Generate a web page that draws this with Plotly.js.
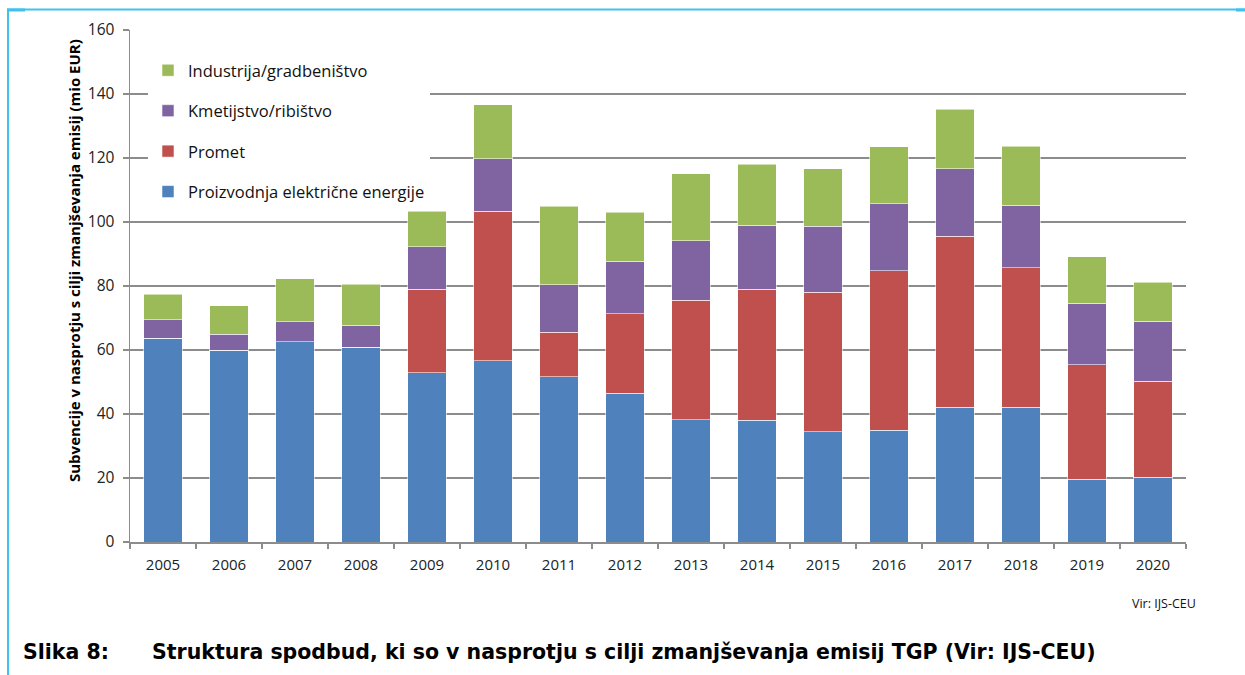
<!DOCTYPE html>
<html>
<head>
<meta charset="utf-8">
<script src="https://cdn.plot.ly/plotly-3.0.1.min.js"></script>
<style>
html,body{margin:0;padding:0;background:#fff;}
#chart{width:1245px;height:675px;}
</style>
</head>
<body>
<div id="chart"></div>
<script>
const years = ["2005","2006","2007","2008","2009","2010","2011","2012","2013","2014","2015","2016","2017","2018","2019","2020"];
const elektrika = [63.6,59.9,62.6,60.8,52.9,56.6,51.7,46.5,38.2,38.0,34.4,34.9,42.1,42.1,19.6,20.2];
const promet    = [0,0,0,0,26.1,46.7,13.8,24.9,37.3,41.0,43.6,49.9,53.5,43.6,35.8,30.0];
const kmetijstvo= [5.9,5.0,6.2,7.0,13.2,16.5,14.9,16.4,18.7,20.0,20.6,20.9,21.1,19.6,19.2,18.8];
const industrija= [7.9,8.9,13.4,12.7,11.2,16.9,24.5,15.3,20.9,19.1,18.1,17.8,18.5,18.4,14.6,12.2];

const names = ["Proizvodnja električne energije","Promet","Kmetijstvo/ribištvo","Industrija/gradbeništvo"];
const colors = ["#4f81bd","#c0504d","#8064a2","#9bbb59"];
const series = [elektrika, promet, kmetijstvo, industrija];

const traces = series.map((vals,i)=>({
  type:"bar",
  x: years,
  y: vals,
  name: names[i],
  legendgroup: "g"+i,
  legendrank: 4-i,
  marker:{color: colors[i], line:{color:"rgba(255,255,255,0.55)", width:1}},
  hoverinfo:"x+y+name"
}));

const W=1245, H=675, L=130, R=59, T=30, B=133;
const pw = W-L-R, ph = H-T-B;
const px = x => (x-L)/pw;
const py = y => (H-B-y)/ph;

const frame = "#3ec1ee";
const layout = {
  width: W, height: H,
  margin:{l:L, r:R, t:T, b:B, pad:0},
  paper_bgcolor:"#fff", plot_bgcolor:"#fff",
  barmode:"stack",
  bargap:0.42,
  showlegend:true,
  font:{family:"Open Sans, sans-serif", size:15, color:"#222"},
  legend:{
    x: px(148), y: py(53), xanchor:"left", yanchor:"top",
    traceorder:"grouped", tracegroupgap:16,
    bgcolor:"#fff", borderwidth:0,
    font:{family:"Open Sans, sans-serif", size:16.5, color:"#111"}
  },
  xaxis:{
    type:"category",
    showgrid:false,
    showline:true, linecolor:"#8c8c8c", linewidth:1.5,
    ticks:"outside", ticklen:5, tickcolor:"#8c8c8c", tickwidth:1.2,
    tickson:"boundaries",
    ticklabelstandoff:8,
    tickfont:{family:"Open Sans, sans-serif", size:15, color:"#222"},
    zeroline:false
  },
  yaxis:{
    range:[0,160],
    tickvals:[0,20,40,60,80,100,120,140,160],
    showgrid:true, gridcolor:"#8c8c8c", gridwidth:1.5,
    showline:true, linecolor:"#8c8c8c", linewidth:1.5,
    ticks:"outside", ticklen:6, tickcolor:"#8c8c8c", tickwidth:1.2,
    ticklabelstandoff:5,
    tickfont:{family:"Open Sans, sans-serif", size:15.5, color:"#222"},
    zeroline:false
  },
  annotations:[
    {xref:"paper", yref:"paper", x:px(74), y:py(261), xanchor:"center", yanchor:"middle",
     textangle:-90, showarrow:false,
     text:"<b>Subvencije v nasprotju s cilji zmanjševanja emisij (mio EUR)</b>",
     font:{family:"Open Sans, sans-serif", size:15, color:"#000"}},
    {xref:"paper", yref:"paper", x:px(1198), y:py(603), xanchor:"right", yanchor:"middle",
     showarrow:false, text:"Vir: IJS-CEU",
     font:{family:"Open Sans, sans-serif", size:12.5, color:"#111"}},
    {xref:"paper", yref:"paper", x:px(21), y:py(652), xanchor:"left", yanchor:"middle",
     showarrow:false, text:"<b>Slika 8:</b>",
     font:{family:"DejaVu Sans, sans-serif", size:20.5, color:"#000"}},
    {xref:"paper", yref:"paper", x:px(150), y:py(652), xanchor:"left", yanchor:"middle",
     showarrow:false, text:"<b>Struktura spodbud, ki so v nasprotju s cilji zmanjševanja emisij TGP (Vir: IJS-CEU)</b>",
     font:{family:"DejaVu Sans, sans-serif", size:20.5, color:"#000"}}
  ],
  shapes:[
    {type:"line", xref:"paper", yref:"paper", x0:px(7), x1:px(1245), y0:py(9.5), y1:py(9.5), line:{color:frame, width:2}},
    {type:"line", xref:"paper", yref:"paper", x0:px(8), x1:px(8), y0:py(9), y1:py(675), line:{color:frame, width:2}},
    {type:"line", xref:"paper", yref:"paper", x0:px(7), x1:px(25), y0:py(10), y1:py(10), line:{color:frame, width:3}},
    {type:"line", xref:"paper", yref:"paper", x0:px(1236), x1:px(1245), y0:py(10), y1:py(10), line:{color:frame, width:3}}
  ]
};

Plotly.newPlot("chart", traces, layout, {displayModeBar:false, staticPlot:true});
</script>
</body>
</html>
